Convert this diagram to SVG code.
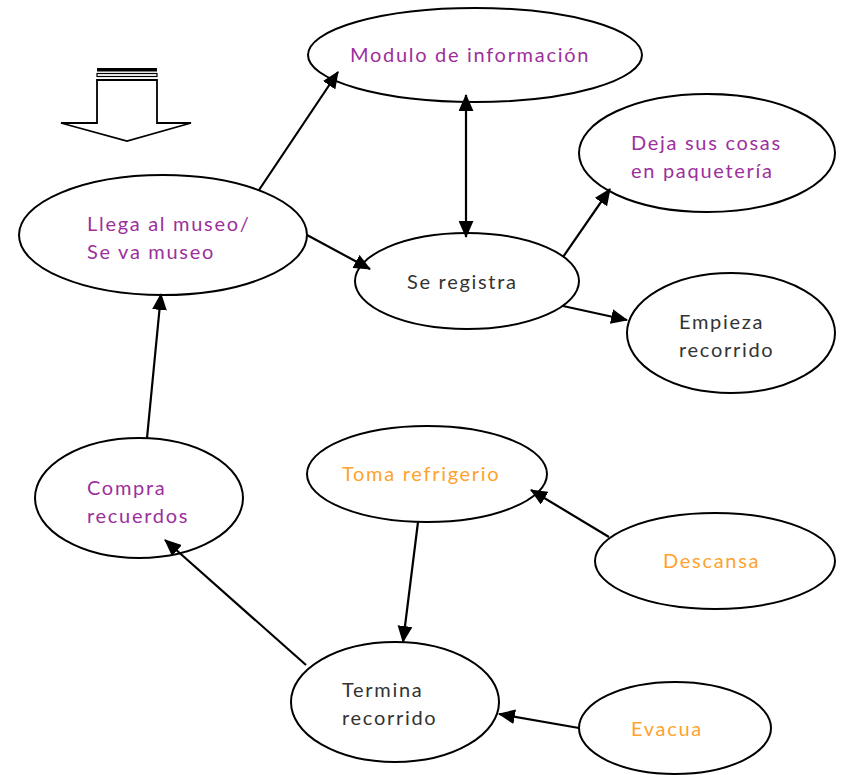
<svg xmlns="http://www.w3.org/2000/svg" width="842" height="775" viewBox="0 0 842 775">
<defs>
<style>
.n ellipse{fill:#fff;stroke:#000;stroke-width:2}
.t{font-family:Lato,"Open Sans",sans-serif;font-size:20px;letter-spacing:1.7px}
.p{fill:#9c2f9c}
.o{fill:#ffa22e}
.g{fill:#333}
.e line{stroke:#000;stroke-width:2.2;fill:none}
</style>
<marker id="a" viewBox="0 0 16 14" refX="15" refY="7" markerWidth="17" markerHeight="15" markerUnits="userSpaceOnUse" orient="auto-start-reverse">
<path d="M0,0 L16,7 L0,14 z" fill="#000"/>
</marker>
</defs>
<rect width="842" height="775" fill="#fff"/>
<g id="blockarrow">
<polygon points="97,80 157,80 157,123 191,123 127,141 61,123 97,123" fill="#fff" stroke="#000" stroke-width="1.8" stroke-linejoin="miter"/>
<rect x="97" y="68" width="60" height="3.5" fill="#000"/>
<rect x="97" y="73.5" width="60" height="3" fill="none" stroke="#000" stroke-width="1.2"/>
</g>
<g id="modulo" class="n"><ellipse cx="475" cy="55" rx="167" ry="47"/><text class="t p" x="350" y="62">Modulo de información</text></g>
<g id="deja" class="n"><ellipse cx="707" cy="153" rx="128" ry="59"/><text class="t p" x="631" y="150">Deja sus cosas</text><text class="t p" x="631" y="178">en paquetería</text></g>
<g id="llega" class="n"><ellipse cx="163" cy="235" rx="144" ry="60"/><text class="t p" x="87" y="231">Llega al museo/</text><text class="t p" x="87" y="259">Se va museo</text></g>
<g id="registra" class="n"><ellipse cx="467" cy="281" rx="112" ry="48"/><text class="t g" x="407" y="289">Se registra</text></g>
<g id="empieza" class="n"><ellipse cx="731" cy="333" rx="104" ry="60"/><text class="t g" x="679" y="329">Empieza</text><text class="t g" x="679" y="357">recorrido</text></g>
<g id="toma" class="n"><ellipse cx="427" cy="474" rx="120" ry="48"/><text class="t o" x="342" y="481">Toma refrigerio</text></g>
<g id="compra" class="n"><ellipse cx="139" cy="498" rx="104" ry="60"/><text class="t p" x="87" y="495">Compra</text><text class="t p" x="87" y="523">recuerdos</text></g>
<g id="descansa" class="n"><ellipse cx="715" cy="561" rx="120" ry="48"/><text class="t o" x="663" y="568">Descansa</text></g>
<g id="termina" class="n"><ellipse cx="395" cy="702" rx="104" ry="60"/><text class="t g" x="342" y="697">Termina</text><text class="t g" x="342" y="725">recorrido</text></g>
<g id="evacua" class="n"><ellipse cx="675" cy="728" rx="96" ry="46"/><text class="t o" x="631" y="736">Evacua</text></g>
<g id="connectors" class="e">
<line x1="259" y1="190" x2="338" y2="72" marker-end="url(#a)"/>
<line x1="466" y1="95" x2="466" y2="237" marker-start="url(#a)" marker-end="url(#a)"/>
<line x1="307" y1="235" x2="370" y2="269" marker-end="url(#a)"/>
<line x1="563" y1="257" x2="610" y2="189" marker-end="url(#a)"/>
<line x1="563" y1="306" x2="627" y2="320" marker-end="url(#a)"/>
<line x1="147" y1="438" x2="161" y2="294" marker-end="url(#a)"/>
<line x1="306" y1="665" x2="165" y2="540" marker-end="url(#a)"/>
<line x1="418" y1="522" x2="403" y2="642" marker-end="url(#a)"/>
<line x1="609" y1="537" x2="531" y2="490" marker-end="url(#a)"/>
<line x1="579" y1="728" x2="499" y2="714" marker-end="url(#a)"/>
</g>
</svg>
